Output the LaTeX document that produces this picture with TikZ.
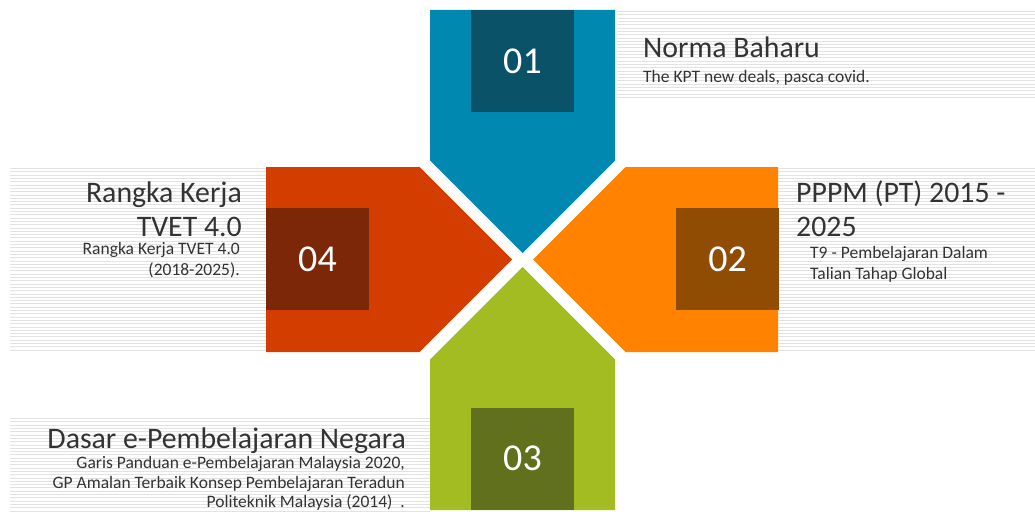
\documentclass[tikz,border=0pt]{standalone}
\usepackage{fontspec}
\setmainfont{Carlito}
\definecolor{cblue}{HTML}{0088B0}
\definecolor{cblued}{HTML}{0A5267}
\definecolor{cred}{HTML}{D43D00}
\definecolor{credd}{HTML}{7C2808}
\definecolor{corange}{HTML}{FF8300}
\definecolor{coranged}{HTML}{914C04}
\definecolor{cgreen}{HTML}{A2BC22}
\definecolor{cgreend}{HTML}{60701C}
\definecolor{ctext}{HTML}{333333}
\definecolor{cstripe}{HTML}{E2E2E2}
\begin{document}
\begin{tikzpicture}[x=1pt,y=-1pt,
  numbox/.style={minimum width=103pt,minimum height=102pt,inner sep=0pt,text=white,font=\fontsize{38}{38}\selectfont},
  title/.style={text=ctext,inner sep=0pt,font=\fontsize{29.8}{34}\selectfont},
  sub/.style={text=ctext,inner sep=0pt,font=\fontsize{17.5}{21}\selectfont},
  stripe/.style={cstripe,line width=0.7pt}]
\useasboundingbox (0,0) rectangle (1035,511);
% stripes
\foreach \yy in {11.5,14.8,...,100}{\draw[stripe] (617,\yy) -- (1035,\yy);}
\foreach \yy in {168.5,171.8,...,353}{\draw[stripe] (10,\yy) -- (266,\yy);}
\foreach \yy in {168.5,171.8,...,353}{\draw[stripe] (778,\yy) -- (1035,\yy);}
\foreach \yy in {418.5,421.8,...,511}{\draw[stripe] (10,\yy) -- (430,\yy);}
% arrows
\fill[cblue] (430,10) -- (615,10) -- (615,160.5) -- (522.5,253) -- (430,160.5) -- cycle;
\fill[cgreen] (430,510) -- (615,510) -- (615,359.5) -- (522.5,267) -- (430,359.5) -- cycle;
\fill[cred] (266,167) -- (419.5,167) -- (512,259.5) -- (419.5,352) -- (266,352) -- cycle;
\fill[corange] (778,167) -- (625.5,167) -- (533,259.5) -- (625.5,352) -- (778,352) -- cycle;
% number boxes
\node[numbox,fill=cblued] (n1) at (522.5,61) {01};
\node[numbox,fill=coranged] (n2) at (727.5,259) {02};
\node[numbox,fill=cgreend] (n3) at (522.5,458.5) {03};
\node[numbox,fill=credd] (n4) at (317.5,259) {04};
% texts
\node[title,anchor=base west] (t1) at (643,58) {Norma Baharu};
\node[sub,anchor=base west] (s1) at (643,82) {The KPT new deals, pasca covid.};
\node[title,anchor=base east] (t4a) at (242,202) {Rangka Kerja};
\node[title,anchor=base east] (t4b) at (242,236) {TVET 4.0};
\node[sub,anchor=base east] (s4a) at (240,254) {Rangka Kerja TVET 4.0};
\node[sub,anchor=base east] (s4b) at (240,275) {(2018-2025).};
\node[title,anchor=base west] (t2a) at (796,202) {PPPM (PT) 2015 -};
\node[title,anchor=base west] (t2b) at (796,236) {2025};
\node[sub,anchor=base west] (s2a) at (810,258) {T9 - Pembelajaran Dalam};
\node[sub,anchor=base west] (s2b) at (810,279) {Talian Tahap Global};
\node[title,anchor=base east] (t3) at (406,448) {Dasar e-Pembelajaran Negara};
\node[sub,anchor=base east] (s3a) at (405,468) {Garis Panduan e-Pembelajaran Malaysia 2020,};
\node[sub,anchor=base east] (s3b) at (405,488) {GP Amalan Terbaik Konsep Pembelajaran Teradun};
\node[sub,anchor=base east] (s3c) at (405,507) {Politeknik Malaysia (2014)\ \ .};
\end{tikzpicture}
\end{document}
